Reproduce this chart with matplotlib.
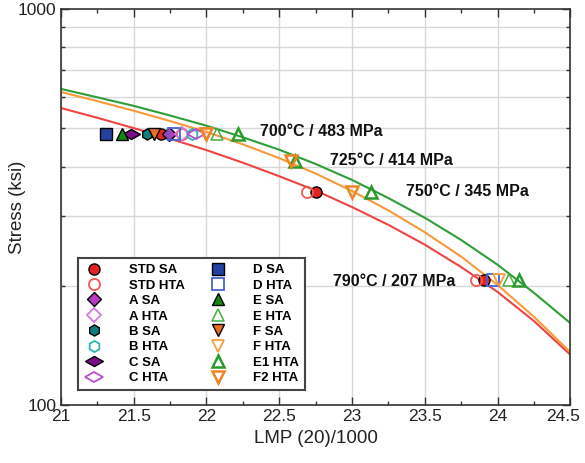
import matplotlib
matplotlib.use("Agg")
import matplotlib.pyplot as plt
from matplotlib.lines import Line2D
from matplotlib.markers import MarkerStyle
from matplotlib.transforms import Affine2D, ScaledTranslation
from matplotlib.ticker import FixedLocator, NullFormatter, MultipleLocator

plt.rcParams["font.family"] = ["Liberation Sans", "DejaVu Sans"]

# fitted LMP curves
lmp_grid = [21.0, 21.25, 21.5, 21.75, 22.0, 22.25, 22.5, 22.75,
            23.0, 23.25, 23.5, 23.75, 24.0, 24.25, 24.5]
green_fit = [628, 598, 569, 538, 507, 474, 441, 406, 370, 333, 297, 261, 226, 192, 161]
orange_fit = [617, 585, 553, 521, 489, 455, 420, 384, 347, 310, 273, 237, 201, 167, 136]
red_fit = [562, 531, 500, 470, 440, 409, 378, 348, 316, 285, 254, 223, 193, 163, 134]

# test points: series name -> (lmp list, stress list)
points = {
    "STD SA": ([21.69, 22.75, 23.91], [483, 345, 207]),
    "STD HTA": ([21.83, 22.69, 23.85], [483, 345, 207]),
    "A SA": ([21.74], [483]),
    "A HTA": ([21.83], [483]),
    "B SA": ([21.59], [483]),
    "B HTA": ([21.90], [483]),
    "C SA": ([21.48], [483]),
    "C HTA": ([21.93], [483]),
    "D SA": ([21.31], [483]),
    "D HTA": ([21.78, 23.97], [483, 207]),
    "E SA": ([21.42], [483]),
    "E HTA": ([22.07, 24.08], [483, 207]),
    "F SA": ([21.64], [483]),
    "F HTA": ([22.00, 24.01], [483, 207]),
    "E1 HTA": ([22.22, 22.61, 23.13, 24.15], [483, 414, 345, 207]),
    "F2 HTA": ([22.00, 22.58, 23.00], [483, 414, 345]),
}

labels_text = ["700°C / 483 MPa", "725°C / 414 MPa", "750°C / 345 MPa", "790°C / 207 MPa"]
labels_x = [22.37, 22.85, 23.37, 22.87]
labels_y = [489, 414, 345, 205]

flat = MarkerStyle("d", transform=Affine2D().rotate_deg(90))

styles = {
    "STD SA": dict(marker="o", mfc="#e32222", mec="black", mew=1.0),
    "STD HTA": dict(marker="o", mfc="none", mec="#f05a50", mew=1.3),
    "A SA": dict(marker="D", mfc="#b43cc0", mec="black", mew=1.0, ms=7),
    "A HTA": dict(marker="D", mfc="none", mec="#d27ae0", mew=1.3, ms=7),
    "B SA": dict(marker="h", mfc="#0c7f80", mec="black", mew=1.0),
    "B HTA": dict(marker="h", mfc="none", mec="#2eb4b4", mew=1.3),
    "C SA": dict(marker=flat, mfc="#7a1088", mec="black", mew=1.0, ms=9),
    "C HTA": dict(marker=flat, mfc="none", mec="#b450d0", mew=1.3, ms=9),
    "D SA": dict(marker="s", mfc="#2440a0", mec="black", mew=1.0),
    "D HTA": dict(marker="s", mfc="none", mec="#4a64d2", mew=1.3),
    "E SA": dict(marker="^", mfc="#108a10", mec="black", mew=1.0),
    "E HTA": dict(marker="^", mfc="none", mec="#40b040", mew=1.1),
    "F SA": dict(marker="v", mfc="#e87020", mec="black", mew=1.0),
    "F HTA": dict(marker="v", mfc="none", mec="#f8a040", mew=1.3),
    "E1 HTA": dict(marker="^", mfc="none", mec="#2a9a2a", mew=1.8, ms=9),
    "F2 HTA": dict(marker="v", mfc="none", mec="#f08424", mew=1.8, ms=9),
}

fig = plt.figure(figsize=(5.85, 4.63), dpi=100)
ax = fig.add_axes([0.104, 0.125, 0.871, 0.856])

ax.plot(lmp_grid, red_fit, color="#f04444", lw=1.5, zorder=2)
ax.plot(lmp_grid, orange_fit, color="#f89a3a", lw=1.5, zorder=2)
ax.plot(lmp_grid, green_fit, color="#2e9e38", lw=1.5, zorder=2)

handles = []
for name, (xs, ys) in points.items():
    st = dict(ms=8)
    st.update(styles[name])
    ax.plot(xs, ys, ls="none", zorder=3, **st)
    handles.append(Line2D([], [], ls="none", label=name, **st))

for txt, tx, ty in zip(labels_text, labels_x, labels_y):
    ax.text(tx, ty, txt, fontsize=11.5, fontweight="bold", va="center", ha="left",
            color="#111111", zorder=4)

ax.set_yscale("log")
ax.set_xlim(21, 24.5)
ax.set_ylim(100, 1000)
ax.xaxis.set_minor_locator(MultipleLocator(0.25))
ax.set_xticks([21, 21.5, 22, 22.5, 23, 23.5, 24, 24.5])
ax.set_xticklabels(["21", "21.5", "22", "22.5", "23", "23.5", "24", "24.5"])
ax.yaxis.set_major_locator(FixedLocator([100, 1000]))
ax.set_yticklabels(["100", "1000"])
ax.yaxis.set_minor_locator(FixedLocator([200, 300, 400, 500, 600, 700, 800, 900]))
ax.yaxis.set_minor_formatter(NullFormatter())
ax.grid(True, which="major", axis="x", color="#d8d8d8", lw=1.0, zorder=0)
ax.grid(True, which="minor", axis="y", color="#d8d8d8", lw=1.0, zorder=0)
ax.set_axisbelow(True)
ax.tick_params(which="both", direction="in", top=True, right=True, labelsize=12.5,
               color="#333333", labelcolor="#222222")
ax.tick_params(which="major", length=6, width=1.0, pad=3)
ax.tick_params(which="minor", length=3, width=1.0)
for sp in ax.spines.values():
    sp.set_color("#333333")
    sp.set_linewidth(1.2)

# nudge the last x label so it stays inside the figure
last = ax.get_xticklabels()[-1]
last.set_transform(last.get_transform() + ScaledTranslation(-5 / 72, 0, fig.dpi_scale_trans))

ax.set_xlabel("LMP (20)/1000", fontsize=13.5, color="#222222")
ax.set_ylabel("Stress (ksi)", fontsize=13.5, color="#222222")
ax.yaxis.set_label_coords(-0.068, 0.5)

leg = ax.legend(handles=handles, ncol=2, loc="lower left",
                bbox_to_anchor=(0.033, 0.038), borderaxespad=0,
                fancybox=False, framealpha=1, edgecolor="#444444",
                prop={"weight": "bold", "size": 9.5}, labelspacing=0.24,
                handletextpad=1.85, columnspacing=1.7, handlelength=1.6,
                borderpad=0.45)
leg.get_frame().set_linewidth(1.5)
leg.set_zorder(5)

fig.savefig("out.png", dpi=100)
